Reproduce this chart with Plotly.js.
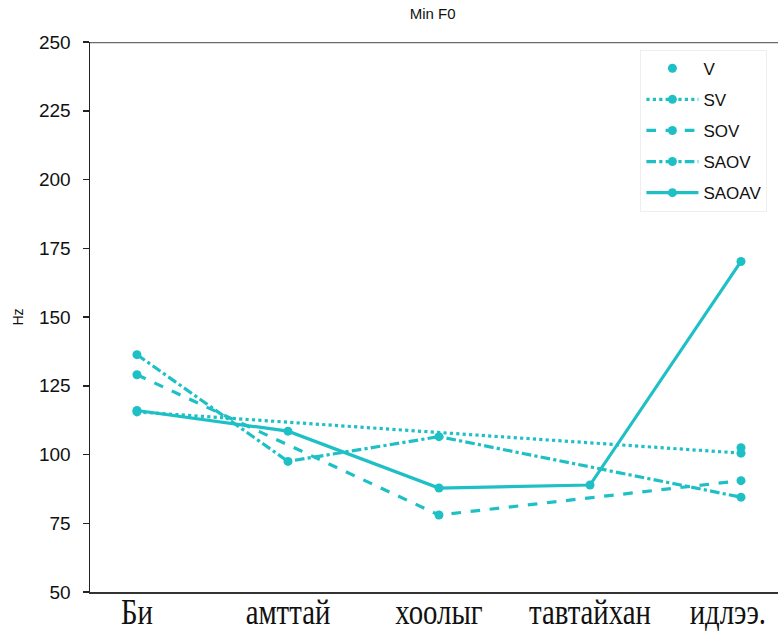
<!DOCTYPE html>
<html>
<head>
<meta charset="utf-8">
<script src="https://cdn.plot.ly/plotly-3.0.1.min.js"></script>
<style>html,body{margin:0;padding:0;background:#fff;}#chart{width:778px;height:633px;}</style>
</head>
<body>
<div id="chart"></div>
<script>
var categories = ["Би", "амттай", "хоолыг", "тавтайхан", "идлээ."];
var seriesNames = ["V", "SV", "SOV", "SAOV", "SAOAV"];
var V     = [null, null, null, null, 102.5];
var SV    = [115.5, null, null, null, 100.5];
var SOV   = [129, null, 78, null, 90.5];
var SAOV  = [136.3, 97.5, 106.5, null, 84.5];
var SAOAV = [116, 108.5, 87.8, 88.9, 170.2];
var yTicks = [50, 75, 100, 125, 150, 175, 200, 225, 250];

var color = "#1ec0c6";
var values = [V, SV, SOV, SAOV, SAOAV];
var dashes = ["solid", "dot", "dash", "dashdot", "solid"];
var traces = values.map(function (vals, i) {
  return {
    x: categories,
    y: vals,
    name: seriesNames[i],
    legendgroup: seriesNames[i],
    type: "scatter",
    mode: i === 0 ? "markers" : "lines+markers",
    connectgaps: true,
    line: {color: color, width: 3.2, dash: dashes[i]},
    marker: {color: color, size: 9}
  };
});

var LABEL_SIZE = 36;
var layout = {
  width: 778, height: 633,
  margin: {l: 90, r: 0, t: 42, b: 41},
  paper_bgcolor: "#fff", plot_bgcolor: "#fff",
  title: {text: "Min F0", x: 0.556, xanchor: "center", y: 0.978, yanchor: "middle",
          font: {family: "Liberation Sans, Arial, sans-serif", size: 15, color: "#111"}},
  showlegend: true,
  legend: {x: 0.8, xanchor: "left", y: 0.986, yanchor: "top",
           bgcolor: "#fff", bordercolor: "#eeeeee", borderwidth: 1,
           traceorder: "grouped", tracegroupgap: 6, itemwidth: 52,
           font: {family: "Liberation Sans, Arial, sans-serif", size: 17, color: "#111"}},
  xaxis: {
    type: "category", categoryorder: "array", categoryarray: categories,
    range: [-0.311, 4.245], showgrid: false, zeroline: false,
    showline: true, linecolor: "#333", linewidth: 2, ticks: "",
    tickfont: {family: "Liberation Serif, Times New Roman, serif", size: LABEL_SIZE, color: "#111"}
  },
  yaxis: {
    range: [50, 250], tickvals: yTicks, showgrid: false, zeroline: false,
    showline: true, linecolor: "#222", linewidth: 1.5,
    ticks: "outside", ticklen: 6, tickcolor: "#222", tickwidth: 1.5,
    ticklabelstandoff: 8,
    tickfont: {family: "Liberation Sans, Arial, sans-serif", size: 19, color: "#111"},
    title: {text: "Hz", standoff: 12, font: {family: "Liberation Sans, Arial, sans-serif", size: 14, color: "#111"}}
  },
  shapes: [{type: "line", xref: "paper", yref: "y", x0: 0, x1: 1, y0: 250, y1: 250,
            line: {color: "#6a6a6a", width: 2.5}}]
};

Plotly.newPlot("chart", traces, layout, {displayModeBar: false, staticPlot: true}).then(function (gd) {
  // condense the serif category labels horizontally and sit them like the reference
  var targetBaseline = 624;
  var texts = gd.querySelectorAll(".xtick text");
  texts.forEach(function (t) {
    var tr = t.getAttribute("transform") || "";
    var X = parseFloat(t.getAttribute("x")) || 0;
    var r = t.getBoundingClientRect();
    var baseline = r.top + 0.891 * LABEL_SIZE;
    var dy = targetBaseline - baseline;
    var newTr = tr + " translate(0," + dy.toFixed(1) + ") translate(" + X + ",0) scale(0.8,1) translate(" + (-X) + ",0)";
    t.setAttribute("transform", newTr);
    var r2 = t.getBoundingClientRect();
    if (r2.right > 766) {
      t.setAttribute("transform", tr + " translate(" + (766 - r2.right).toFixed(1) + "," + dy.toFixed(1) + ") translate(" + X + ",0) scale(0.8,1) translate(" + (-X) + ",0)");
    }
  });
});
</script>
</body>
</html>
